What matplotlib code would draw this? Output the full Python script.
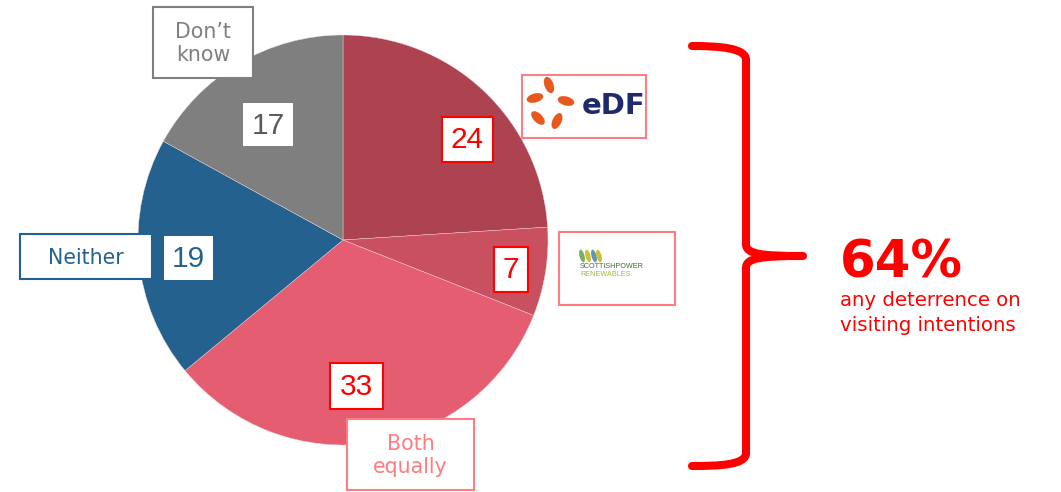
import matplotlib
matplotlib.use("Agg")
import matplotlib.pyplot as plt
from matplotlib.patches import Rectangle, Ellipse, PathPatch
from matplotlib.path import Path

# ---- data ----
categories = ["EDF", "ScottishPower Renewables", "Both equally", "Neither", "Don't know"]
values = [24, 7, 33, 19, 17]
colors = ["#AD4251", "#C9505F", "#E55D71", "#24618E", "#7F7F7F"]
total_label = "64%"
total_caption = "any deterrence on\nvisiting intentions"

W, H = 1061, 492
fig = plt.figure(figsize=(W / 100, H / 100), dpi=100)
ax = fig.add_axes([0, 0, 1, 1])

# pie (screen coords, y inverted -> counterclock in data = clockwise on screen)
ax.pie(values, colors=colors, startangle=270, counterclock=True,
       center=(343, 240), radius=205,
       wedgeprops=dict(edgecolor="#F2D5D9", linewidth=0.3))
ax.set_xlim(0, W)
ax.set_ylim(H, 0)
ax.set_aspect("equal")
ax.axis("off")

NUMFONT = "Liberation Sans"
LBLFONT = "DejaVu Sans"


def box(x0, y0, x1, y1, edge, lw=1.5, fill="white", z=5):
    ax.add_patch(Rectangle((x0, y0), x1 - x0, y1 - y0, facecolor=fill,
                           edgecolor=edge if edge else "none", linewidth=lw, zorder=z))


def num_box(x0, y0, x1, y1, val, tcolor, edge):
    box(x0, y0, x1, y1, edge)
    ax.text((x0 + x1) / 2, (y0 + y1) / 2 + 1, str(val), color=tcolor, fontsize=21.5,
            family=NUMFONT, ha="center", va="center", zorder=6)


def lbl_box(x0, y0, x1, y1, txt, tcolor, edge):
    box(x0, y0, x1, y1, edge)
    ax.text((x0 + x1) / 2, (y0 + y1) / 2 + 1, txt, color=tcolor, fontsize=14.8,
            family=LBLFONT, ha="center", va="center", zorder=6, linespacing=1.15)


# value boxes
num_box(442, 117, 493, 162, values[0], "#FF0000", "#FF0000")
num_box(494, 247, 528, 292, values[1], "#FF0000", "#FF0000")
num_box(330, 363, 383, 409, values[2], "#FF0000", "#FF0000")
num_box(164, 236, 213, 280, values[3], "#24618E", None)
num_box(243, 103, 293, 146, values[4], "#595959", None)

# category label boxes
lbl_box(347, 419, 474, 490, "Both\nequally", "#FF7C80", "#FF7C80")
lbl_box(20, 234, 152, 279, "Neither", "#24618E", "#24618E")
lbl_box(153, 7, 253, 78, "Don\u2019t\nknow", "#7F7F7F", "#7F7F7F")

# EDF logo box
box(522, 75, 646, 138, "#FF7C80")
petals = [(549, 85, 70), (535, 98, 165), (538, 118, 225), (557, 121, 295), (566, 101, 15)]
for px, py, ang in petals:
    ax.add_patch(Ellipse((px, py), 17, 9, angle=ang, facecolor="#E8581C",
                         edgecolor="none", zorder=7))
ax.text(614, 106, "eDF", color="#1F2A6B", fontsize=21, fontweight="bold",
        family="DejaVu Sans", ha="center", va="center", zorder=7)

# ScottishPower Renewables logo box
box(559, 232, 675, 305, "#FF7C80")
for lx, c in [(582, "#6AA84F"), (588, "#C9B81E"), (594, "#4A8DB5"), (599, "#C9B81E")]:
    ax.add_patch(Ellipse((lx, 256), 5, 13, angle=-15, facecolor=c,
                         edgecolor="none", zorder=7, alpha=0.9))
ax.text(580, 266, "SCOTTISHPOWER", color="#3C6E2F", fontsize=5.2, family="Liberation Sans",
        ha="left", va="center", zorder=7)
ax.text(580, 274, "RENEWABLES", color="#A5B83A", fontsize=5.2, family="Liberation Sans",
        ha="left", va="center", zorder=7)

# curly brace
verts = [
    (692, 46),
    (720, 46), (746, 48), (746, 60),
    (746, 244),
    (746, 254), (760, 256), (803, 256),
    (760, 256), (746, 258), (746, 268),
    (746, 453),
    (746, 465), (720, 466), (692, 466),
]
codes = [Path.MOVETO,
         Path.CURVE4, Path.CURVE4, Path.CURVE4,
         Path.LINETO,
         Path.CURVE4, Path.CURVE4, Path.CURVE4,
         Path.CURVE4, Path.CURVE4, Path.CURVE4,
         Path.LINETO,
         Path.CURVE4, Path.CURVE4, Path.CURVE4]
ax.add_patch(PathPatch(Path(verts, codes), facecolor="none", edgecolor="#FF0000",
                       linewidth=5.8, capstyle="round", joinstyle="round", zorder=4))

ax.text(840, 277, total_label, color="#FF0000", fontsize=37, fontweight="bold",
        family="DejaVu Sans", ha="left", va="baseline")
ax.text(840, 291, total_caption, color="#FF0000", fontsize=14.2,
        family="DejaVu Sans", ha="left", va="top", linespacing=1.4)

fig.savefig("out.png", dpi=100)
